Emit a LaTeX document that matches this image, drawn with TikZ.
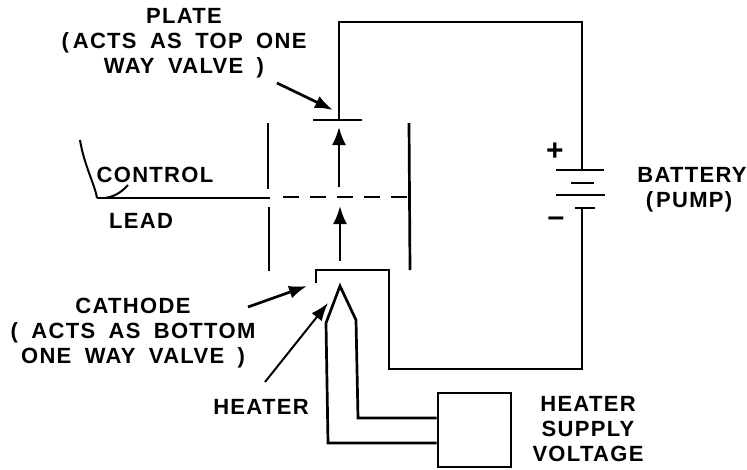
\documentclass[tikz,border=0pt]{standalone}
\usepackage{fontspec}
\setmainfont[LetterSpace=6,WordSpace=1.8]{Liberation Sans}
\usetikzlibrary{arrows.meta,positioning}
\tikzset{
  wire/.style={line width=2.7pt,line join=miter},
  gridline/.style={line width=2.7pt,dash pattern=on 16pt off 11pt},
  pointer/.style={-{Latex[length=18pt,width=13pt]},line width=2.7pt},
  flow/.style={-{Latex[length=18pt,width=14pt]},line width=2.4pt},
  caption/.style={align=center,inner sep=0pt,font=\fontsize{22}{25}\selectfont\bfseries},
  polarity/.style={inner sep=0pt,font=\fontsize{30}{30}\selectfont\bfseries},
  supplybox/.style={draw,line width=2.7pt,minimum width=73pt,minimum height=74pt,inner sep=0pt},
}
\begin{document}
\begin{tikzpicture}[x=1pt,y=-1pt]
  \useasboundingbox (0,0) rectangle (747,469);
  % tube
  \coordinate (platel) at (313,120);
  \coordinate (plater) at (362,120);
  \coordinate (platem) at (339,120);
  \coordinate (topl) at (339,22);
  \coordinate (topr) at (582,22);
  \coordinate (battp) at (582,170);
  \coordinate (battn) at (582,208);
  \coordinate (botr) at (582,369);
  \coordinate (botl) at (389,369);
  \coordinate (cathr) at (389,270);
  \coordinate (cathl) at (316,270);
  \coordinate (cathe) at (316,283);
  \draw[wire] (platel) -- (plater);
  \draw[wire] (platem) -- (topl) -- (topr) -- (battp);
  \draw[wire] (battn) -- (botr) -- (botl) -- (cathr) -- (cathl) -- (cathe);
  % battery plates
  \draw[wire] (556,170) -- (604,170);
  \draw[wire] (571,183) -- (594,183);
  \draw[wire] (556,195) -- (605,195);
  \draw[wire] (575,208) -- (595,208);
  % grid
  \draw[wire] (268,123) -- (268,189);
  \draw[wire] (269,207) -- (269,271);
  \draw[wire] (409,123) -- (410,270);
  \coordinate (leadl) at (97,198);
  \coordinate (leadr) at (270,198);
  \draw[wire] (leadl) -- (leadr);
  \draw[gridline] (283,197) -- (409,197);
  % electron flow
  \coordinate (f1a) at (339,187);
  \coordinate (f1b) at (339,127);
  \coordinate (f2a) at (340,261);
  \coordinate (f2b) at (340,206);
  \draw[flow] (f1a) -- (f1b);
  \draw[flow] (f2a) -- (f2b);
  % heater and its supply
  \node[supplybox] (supply) at (474.5,430) {};
  \coordinate (heattop) at (340,286);
  \draw[wire] (supply.west |- 0,443) -- (328,443) -- (326,323) -- (heattop)
    -- (356,320) -- (358,418) -- (supply.west |- 0,418);
  % labels
  \node[caption] (platetxt) at (184,43) {PLATE\\(\hspace{4pt}ACTS AS TOP ONE\\WAY VALVE )};
  \node[caption] (controltxt) at (155,175) {CONTROL};
  \node[caption] (leadtxt) at (141,221) {LEAD};
  \node[caption] (cathodetxt) at (133,333) {CATHODE\\( ACTS AS BOTTOM\\ONE WAY VALVE )};
  \node[caption] (heatertxt) at (261,407) {HEATER};
  \node[caption] (supplytxt) at (588,429) {HEATER\\SUPPLY\\VOLTAGE};
  \node[caption,anchor=north] (batterytxt) at (692,167) {BATTERY};
  \node[caption,below=9pt of batterytxt,xshift=-3pt] (pumptxt) {(\hspace{3pt}PUMP)};
  \node[polarity] (plustxt) at (555,152) {+};
  \node[polarity] (minustxt) at (556,222) {\textendash};
  % pointers
  \coordinate (ptplate) at (333,110);
  \coordinate (ptcath) at (307,286);
  \coordinate (ptheat) at (328,303);
  \coordinate (heatfoot) at (265,382);
  \draw[pointer] (277,83) -- (ptplate);
  \draw[pointer] (248,307) -- (ptcath);
  \draw[pointer,line width=2pt] (heatfoot) -- (ptheat);
  \draw[line width=2pt] (80,140) .. controls (84,165) and (95,185) .. (leadl);
  \draw[line width=2pt] (128,185) .. controls (120,194) and (112,197) .. (105,198);
\end{tikzpicture}
\end{document}
